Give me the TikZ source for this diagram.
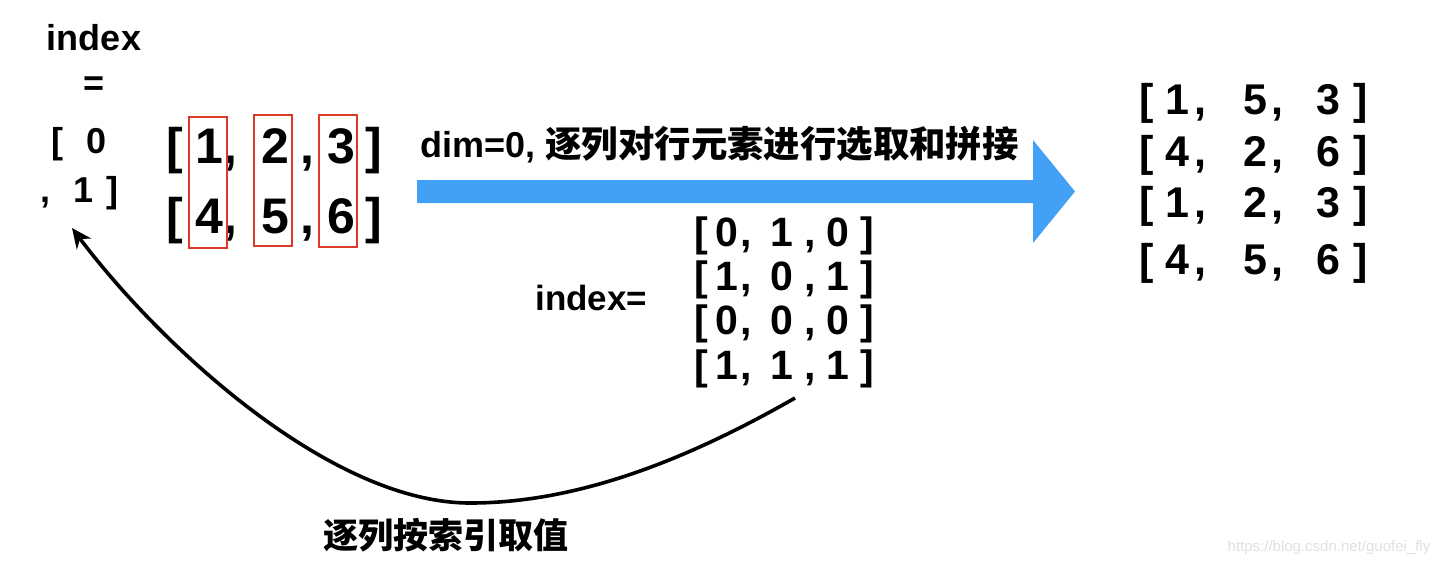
\documentclass[tikz,border=0pt]{standalone}
\usepackage{fontspec}
\setmainfont{Liberation Sans}
\newfontfamily\cjk{Noto Sans CJK SC}
\usetikzlibrary{arrows.meta,fit}
\definecolor{boxred}{RGB}{219,58,40}
\definecolor{arrblue}{RGB}{66,161,245}
\newcommand\glyphrow[4]{%
  \foreach \t/\x [count=\i] in {#4} {\node[#1] (#2-\i) at (\x,#3) {\t};}}
\begin{document}
\begin{tikzpicture}[x=0.5pt,y=-0.5pt,
  gL/.style={font=\fontsize{18}{20}\selectfont\bfseries, inner sep=0pt, anchor=base},
  gM/.style={font=\fontsize{25}{28}\selectfont\bfseries, inner sep=0pt, anchor=base},
  gI/.style={font=\fontsize{20.5}{23}\selectfont\bfseries, inner sep=0pt, anchor=base},
  gR/.style={font=\fontsize{21.5}{24}\selectfont\bfseries, inner sep=0pt, anchor=base},
  redbox/.style={draw=boxred, line width=1pt, inner sep=0pt},
  lbl/.style={font=\fontsize{18}{20}\selectfont\bfseries, inner sep=0pt},
  curvearrow/.style={line width=1.8pt, -{Stealth[length=10pt,width=9pt]}}]
\useasboundingbox (0,0) rectangle (1446,570);
% left index block
\node[gL] (lidx) at (94,50) {index};
\node[gL, anchor=center] (leq) at (94,86) {=};
\node[gL] (lob) at (57,153) {[};
\node[gL] (lzero) at (97,153) {0};
\node[gL] (lcom) at (46,202) {,};
\node[gL] (lone) at (84,202) {1};
\node[gL] (lcb) at (112,202) {]};
% source matrix
\glyphrow{gM}{ma}{163}{{[}/175, 1/209, {,}/230, 2/275, {,}/307, 3/341, {]}/374}
\glyphrow{gM}{mb}{233}{{[}/175, 4/209, {,}/230, 5/275, {,}/307, 6/341, {]}/374}
\node[redbox, fit={(189,117) (227,248)}] (col1) {};
\node[redbox, fit={(254,115) (292,246)}] (col2) {};
\node[redbox, fit={(319,115) (357,247)}] (col3) {};
% blue arrow
\fill[arrblue] (417,180) -- (1033,180) -- (1033,140) -- (1075,191.5) -- (1033,243) -- (1033,203) -- (417,203) -- cycle;
\node[lbl, anchor=base west] (dimlbl) at (420,157) {dim=0, {\cjk\fontsize{18.2}{20}\selectfont\bfseries 逐列对行元素进行选取和拼接}};
% index matrix
\node[lbl, anchor=west, font=\fontsize{17.5}{20}\selectfont\bfseries] (idxlbl) at (535,298) {index=};
\glyphrow{gI}{ia}{246}{{[}/701, 0/727, {,}/746, 1/782, {,}/810, 0/838, {]}/867}
\glyphrow{gI}{ib}{290}{{[}/701, 1/727, {,}/746, 0/782, {,}/810, 1/838, {]}/867}
\glyphrow{gI}{ic}{334}{{[}/701, 0/727, {,}/746, 0/782, {,}/810, 0/838, {]}/867}
\glyphrow{gI}{id}{379}{{[}/701, 1/727, {,}/746, 1/782, {,}/810, 1/838, {]}/867}
% result matrix
\glyphrow{gR}{ra}{114}{{[}/1147, 1/1177, {,}/1200, 5/1255, {,}/1277, 3/1328, {]}/1361}
\glyphrow{gR}{rb}{166}{{[}/1147, 4/1177, {,}/1200, 2/1255, {,}/1277, 6/1328, {]}/1361}
\glyphrow{gR}{rc}{217}{{[}/1147, 1/1177, {,}/1200, 2/1255, {,}/1277, 3/1328, {]}/1361}
\glyphrow{gR}{rd}{274}{{[}/1147, 4/1177, {,}/1200, 5/1255, {,}/1277, 6/1328, {]}/1361}
% curved arrow
\coordinate (cstart) at (795,398);
\coordinate (cend) at (72,228);
\draw[curvearrow] (cstart) .. controls (690,458) and (580,503) .. (470,503) .. controls (330,503) and (160,345) .. (cend);
\node[lbl] (bylbl) at (446,535) {\cjk\fontsize{17.5}{20}\selectfont\bfseries 逐列按索引取值};
% watermark
\node[font=\fontsize{7.5}{9}\selectfont, text=black!12, inner sep=0pt] (wm) at (1329,548) {https://blog.csdn.net/guofei\_fly};
\end{tikzpicture}
\end{document}
